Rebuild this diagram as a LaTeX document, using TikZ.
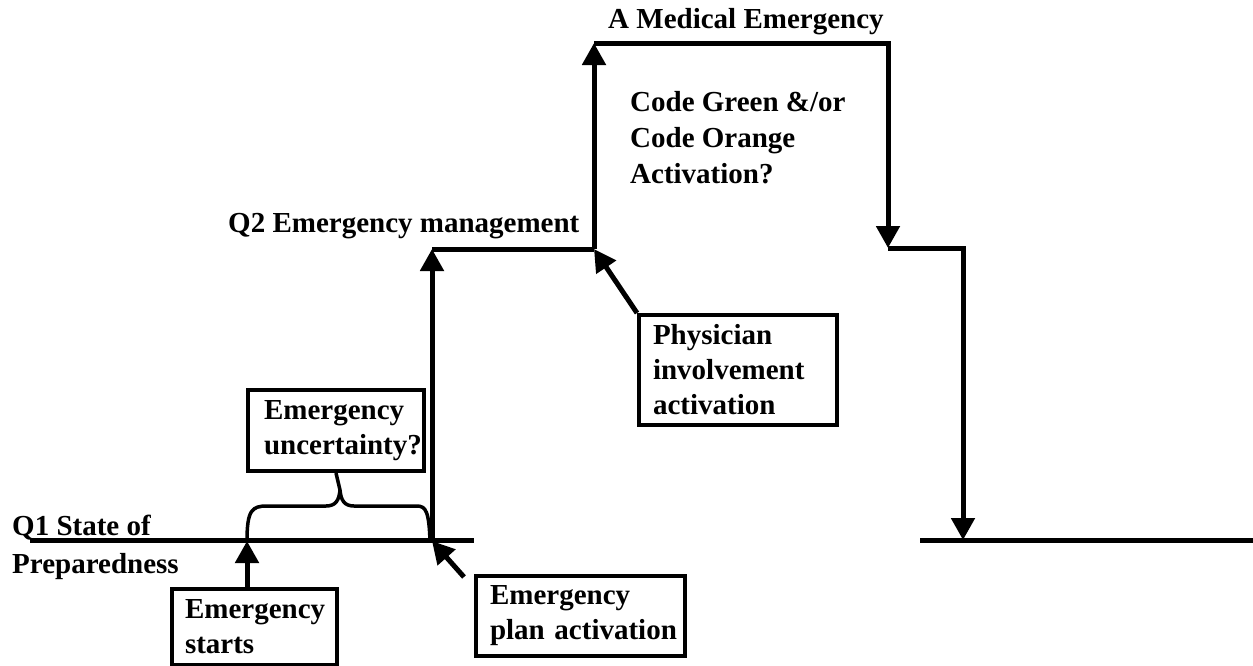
\documentclass[tikz,border=0pt]{standalone}
\usepackage{fontspec}
\setmainfont{Liberation Serif}
\usetikzlibrary{arrows.meta}
\begin{document}
\begin{tikzpicture}[x=1pt,y=-1pt,
  txt/.style={font=\fontsize{29}{36}\selectfont\bfseries, inner sep=0pt, anchor=base west},
  box/.style={draw, line width=4pt, font=\fontsize{29}{35}\selectfont\bfseries, align=left,
     anchor=north west, inner ysep=0pt},
  thick line/.style={line width=5pt},
  arr/.style={line width=5pt, -{Triangle[width=23pt,length=22pt]}}]
\useasboundingbox (0,0) rectangle (1253,665);
% text labels
\node[txt] (topt) at (608,28) {A Medical Emergency};
\node[txt] (q2t) at (228,232) {Q2 Emergency management};
\node[txt,align=left] (codet) at (630,183) {Code Green \&/or\\Code Orange\\Activation?};
\node[txt,align=left,font=\fontsize{29}{38}\selectfont\bfseries] (q1t) at (12,573) {Q1 State of\\Preparedness};
% boxes
\node[box, inner xsep=16pt, text width=144pt, minimum height=81pt] (unc) at (246,388) {\mbox{Emergency}\\\mbox{uncertainty?}};
\node[box, inner xsep=13pt, text width=139pt, minimum height=76pt] (start) at (170,587) {\mbox{Emergency}\\\mbox{starts}};
\node[box, inner xsep=14pt, text width=181pt, minimum height=80pt] (plan) at (474,574) {\mbox{Emergency}\\\mbox{plan activation}};
\node[box, inner xsep=14pt, text width=170pt, minimum height=110pt] (phys) at (637,313) {\mbox{Physician}\\\mbox{involvement}\\\mbox{activation}};
% coordinates
\coordinate (q1a) at (30,540);
\coordinate (q1b) at (474,540);
\coordinate (es) at (247,541);
\coordinate (ep) at (432,541);
\coordinate (q2a) at (432,249);
\coordinate (q2b) at (594,249);
\coordinate (tl) at (594,43);
\coordinate (tr) at (888,43);
\coordinate (s1) at (888,248);
\coordinate (s2) at (963,248);
\coordinate (s3) at (963,540);
\coordinate (b1) at (920,540);
\coordinate (b2) at (1253,540);
\coordinate (planarr) at (464,577);
% lines
\draw[thick line] (q1a) -- (q1b);
\draw[thick line] (b1) -- (b2);
\draw[arr] (start.north -| es) -- (es);
\draw[arr] (ep) -- (q2a);
\draw[thick line] (q2a) -- (q2b);
\draw[arr] (q2b) -- (tl);
\draw[arr] (tl) -- (tr) -- (s1);
\draw[arr] (s1) -- (s2) -- (s3);
\draw[arr] (phys.north west) -- (q2b);
\draw[arr] (planarr) -- (ep);
% brace
\draw[line width=3.5pt, line join=round] (es) .. controls (247,510) and (252,506) .. (267,506)
  -- (326,506) .. controls (336,506) and (339,500) .. (340,490) -- (unc.south)
  (340,490) .. controls (341,500) and (344,506) .. (354,506)
  -- (417,506) .. controls (426,506) and (429,512) .. (430,541);
\end{tikzpicture}
\end{document}
